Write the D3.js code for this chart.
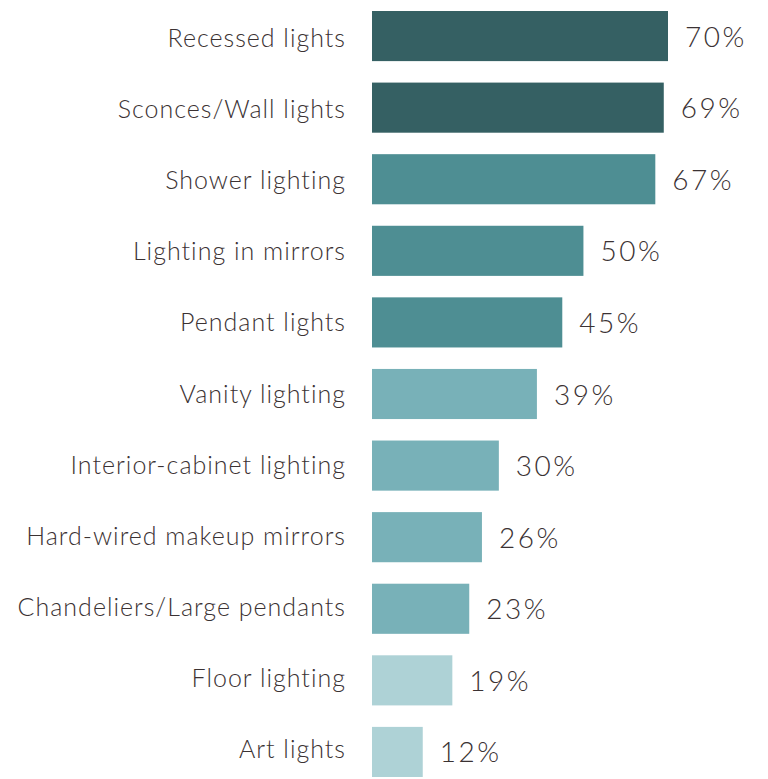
<!DOCTYPE html>
<html>
<head>
<meta charset="utf-8">
<script src="https://cdn.jsdelivr.net/npm/d3@7/dist/d3.min.js"></script>
<style>
  html, body { margin: 0; padding: 0; background: #ffffff; }
  svg { display: block; }
  text { font-family: Lato, "Open Sans", sans-serif; font-weight: 300; fill: #3b3233; }
</style>
</head>
<body>
<svg id="chart" width="768" height="779"></svg>
<script>
// Bathroom lighting types and the share of respondents choosing each
const categories = [
  "Recessed lights",
  "Sconces/Wall lights",
  "Shower lighting",
  "Lighting in mirrors",
  "Pendant lights",
  "Vanity lighting",
  "Interior-cabinet lighting",
  "Hard-wired makeup mirrors",
  "Chandeliers/Large pendants",
  "Floor lighting",
  "Art lights"
];
const values = [70, 69, 67, 50, 45, 39, 30, 26, 23, 19, 12];
// Colour tier of each bar (0 = darkest)
const tiers = [0, 0, 1, 1, 1, 2, 2, 2, 2, 3, 3];
const tierColors = ["#356063", "#4e8e93", "#78b1b8", "#aed2d6"];

const svg = d3.select("#chart");

const x = d3.scaleLinear().domain([0, 70]).range([372, 668]);
const y = d3.scaleBand().domain(categories).range([11, 777]).paddingInner(0.3).paddingOuter(0);
// Category label baselines
const yLabel = d3.scalePoint().domain(categories).range([47, 758]);

const rows = svg.selectAll("g.row")
  .data(categories.map((c, i) => ({ name: c, value: values[i], tier: tiers[i] })))
  .join("g")
  .attr("class", "row");

rows.append("rect")
  .attr("x", x(0))
  .attr("y", d => y(d.name))
  .attr("width", d => x(d.value) - x(0))
  .attr("height", y.bandwidth())
  .attr("fill", d => tierColors[d.tier]);

rows.append("text")
  .attr("x", 346)
  .attr("y", d => yLabel(d.name))
  .attr("text-anchor", "end")
  .attr("font-size", 25)
  .attr("letter-spacing", 1)
  .text(d => d.name);

rows.append("text")
  .attr("x", d => x(d.value) + 17)
  .attr("y", d => y(d.name) + y.bandwidth() / 2 + 10.5)
  .attr("text-anchor", "start")
  .attr("font-size", 28)
  .attr("letter-spacing", 2.5)
  .text(d => d.value + "%");
</script>
</body>
</html>
